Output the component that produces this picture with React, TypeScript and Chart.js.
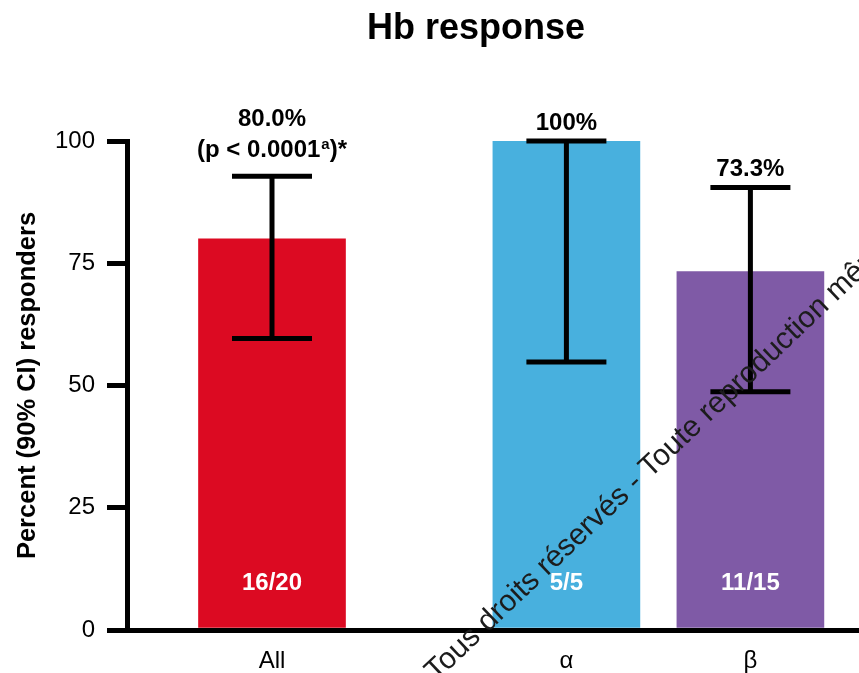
import React, { useEffect, useRef } from 'react';
import { Chart, registerables } from 'chart.js';

Chart.register(...registerables);

// ---- Data ----
const categories = ['All', 'α', 'β'];
const responseRate = [80.0, 100, 73.3];
const ciLower = [59.6, 54.8, 48.7];
const ciUpper = [92.8, 100, 90.5];
const valueLabels = [['80.0%', '(p < 0.0001', 'a', ')*'], ['100%'], ['73.3%']];
const responderCounts = ['16/20', '5/5', '11/15'];
const barColors = ['#DC0A22', '#48B0DE', '#7F5AA6'];
const yTicks = [0, 25, 50, 75, 100];
const chartTitle = 'Hb response';
const yAxisTitle = 'Percent (90% CI) responders';
const watermark = 'Tous droits réservés - Toute reproduction même';

// ---- Layout (category slot positions on the x axis) ----
const categorySlots = [0, 1.6, 2.6];

const FONT = "'Liberation Sans', Arial, Helvetica, sans-serif";

const annotatePlugin = {
  id: 'annotate',
  afterDatasetsDraw(chart: any) {
    const { ctx, scales } = chart;
    const y = scales.y;
    const meta = chart.getDatasetMeta(0);
    ctx.save();
    meta.data.forEach((bar: any, i: number) => {
      const cx = bar.x;
      const yt = y.getPixelForValue(ciUpper[i]);
      const yb = y.getPixelForValue(ciLower[i]);
      ctx.strokeStyle = '#000';
      ctx.lineWidth = 5;
      ctx.lineCap = 'butt';
      ctx.beginPath();
      ctx.moveTo(cx, yt);
      ctx.lineTo(cx, yb);
      ctx.moveTo(cx - 40, yt);
      ctx.lineTo(cx + 40, yt);
      ctx.moveTo(cx - 40, yb);
      ctx.lineTo(cx + 40, yb);
      ctx.stroke();

      // responder counts inside bars
      ctx.fillStyle = '#fff';
      ctx.font = `bold 24px ${FONT}`;
      ctx.textAlign = 'center';
      ctx.textBaseline = 'alphabetic';
      ctx.fillText(responderCounts[i], cx, y.getPixelForValue(10) + 9);

      // value labels above error bars
      ctx.fillStyle = '#000';
      const parts = valueLabels[i];
      if (parts.length === 1) {
        ctx.font = `bold 24px ${FONT}`;
        ctx.textAlign = 'center';
        ctx.fillText(parts[0], cx, yt - 11);
      } else {
        const base2 = yt - 19;
        ctx.font = `bold 24px ${FONT}`;
        ctx.textAlign = 'center';
        ctx.fillText(parts[0], cx, base2 - 31);
        const w1 = ctx.measureText(parts[1]).width;
        const w3 = ctx.measureText(parts[3]).width;
        ctx.font = `bold 15px ${FONT}`;
        const w2 = ctx.measureText(parts[2]).width;
        const total = w1 + w2 + w3 + 1;
        let x0 = cx - total / 2;
        ctx.textAlign = 'left';
        ctx.font = `bold 24px ${FONT}`;
        ctx.fillText(parts[1], x0, base2);
        x0 += w1 + 1;
        ctx.font = `bold 15px ${FONT}`;
        ctx.fillText(parts[2], x0, base2 - 8);
        x0 += w2;
        ctx.font = `bold 24px ${FONT}`;
        ctx.fillText(parts[3], x0, base2);
      }
    });
    ctx.restore();
  },
  afterDraw(chart: any) {
    const { ctx } = chart;
    ctx.save();
    ctx.fillStyle = '#000';
    ctx.font = `bold 36px ${FONT}`;
    ctx.textAlign = 'center';
    ctx.textBaseline = 'alphabetic';
    ctx.fillText(chartTitle, 476, 39);
    ctx.translate(436, 682);
    ctx.rotate((-43.5 * Math.PI) / 180);
    ctx.font = `30px ${FONT}`;
    ctx.fillStyle = '#1c1c1c';
    ctx.textAlign = 'left';
    ctx.fillText(watermark, 0, 0);
    ctx.restore();
  },
};

export default function App() {
  const canvasRef = useRef<HTMLCanvasElement | null>(null);

  useEffect(() => {
    document.body.style.margin = '0';
    const canvas = canvasRef.current;
    if (!canvas) return;
    const unit = 184;
    const leftPx = 127;
    const widthPx = 859 - leftPx;
    const firstCenterOffset = 145;
    const xMin = -firstCenterOffset / unit;
    const xMax = xMin + widthPx / unit;

    const chart = new Chart(canvas, {
      type: 'bar',
      data: {
        datasets: [
          {
            data: responseRate.map((v, i) => ({ x: categorySlots[i], y: v })),
            backgroundColor: barColors,
            borderWidth: 0,
            barThickness: 147,
          },
        ],
      },
      options: {
        responsive: false,
        animation: false,
        layout: { padding: { top: 141, right: 0, left: 0, bottom: 0 } },
        plugins: {
          legend: { display: false },
          tooltip: { enabled: false },
          title: { display: false },
        },
        scales: {
          x: {
            type: 'linear',
            min: xMin,
            max: xMax,
            offset: false,
            z: 1,
            afterBuildTicks: (scale: any) => {
              scale.ticks = categorySlots.map((v) => ({ value: v }));
            },
            afterFit: (scale: any) => {
              scale.height = 43;
            },
            ticks: {
              autoSkip: false,
              maxRotation: 0,
              color: '#000',
              padding: 17,
              font: { family: FONT, size: 24 },
              callback: (value: any) => {
                const idx = categorySlots.indexOf(Number(value));
                return idx >= 0 ? categories[idx] : '';
              },
            },
            grid: { display: false, drawTicks: false },
            border: { display: true, color: '#000', width: 5 },
          },
          y: {
            type: 'linear',
            min: 0,
            max: 100,
            z: 1,
            afterBuildTicks: (scale: any) => {
              scale.ticks = yTicks.map((v) => ({ value: v }));
            },
            afterFit: (scale: any) => {
              scale.width = 127;
            },
            ticks: {
              color: '#000',
              padding: 12,
              font: { family: FONT, size: 24 },
            },
            grid: {
              drawOnChartArea: false,
              drawTicks: true,
              tickLength: 20,
              color: '#000',
              lineWidth: 5,
            },
            border: { display: true, color: '#000', width: 5 },
            title: {
              display: true,
              text: yAxisTitle,
              color: '#000',
              font: { family: FONT, size: 25.5, weight: 'bold' },
              padding: { top: 13, bottom: 0 },
            },
          },
        },
      },
      plugins: [annotatePlugin],
    });
    return () => chart.destroy();
  }, []);

  return (
    <canvas
      ref={canvasRef}
      width={859}
      height={673}
      style={{ display: 'block', width: 859, height: 673 }}
    />
  );
}
